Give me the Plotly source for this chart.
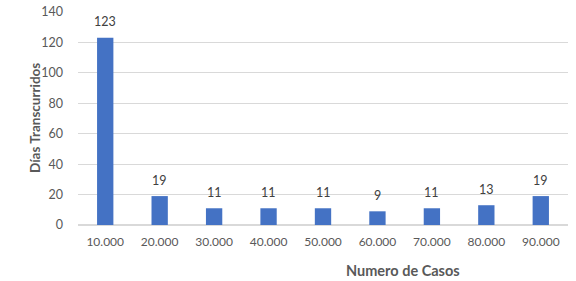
import plotly.graph_objects as go

categories = ["10.000", "20.000", "30.000", "40.000", "50.000", "60.000", "70.000", "80.000", "90.000"]
values = [123, 19, 11, 11, 11, 9, 11, 13, 19]
y_ticks = [0, 20, 40, 60, 80, 100, 120, 140]

font_family = "Lato, 'Open Sans', sans-serif"

L, R, T, B = 78, 8, 12, 56
W, H = 576, 281
pw = W - L - R
ph = H - T - B

fig = go.Figure(go.Bar(
    x=categories, y=values,
    marker=dict(color="#4472C4", line=dict(width=0)),
    cliponaxis=False,
    hoverinfo="skip",
))

value_labels = [
    dict(x=i, y=v, text=str(v), xref="x", yref="y", showarrow=False,
         yanchor="middle", yshift=16,
         font=dict(size=12.5, color="#404040", family=font_family))
    for i, v in enumerate(values)
]

fig.update_layout(
    width=W, height=H,
    margin=dict(l=L, r=R, t=T, b=B, autoexpand=False),
    paper_bgcolor="white", plot_bgcolor="white",
    bargap=0.7,
    showlegend=False,
    font=dict(family=font_family, size=12, color="#595959"),
    xaxis=dict(type="category", categoryorder="array", categoryarray=categories,
               range=[-0.5, len(categories) - 0.5],
               showgrid=False, showline=True, linecolor="#d9d9d9",
               ticks="", automargin=False, ticklabelstandoff=6,
               tickfont=dict(size=12, color="#595959")),
    yaxis=dict(range=[0, 140], tickvals=y_ticks, showgrid=True, gridcolor="#d9d9d9",
               zeroline=True, zerolinecolor="#d9d9d9", showline=False, ticks="",
               automargin=False, ticklabelstandoff=14,
               tickfont=dict(size=12.5, color="#595959")),
    annotations=value_labels + [
        dict(text="<b>Numero de Casos</b>", x=(403 - L) / pw, y=-(270 - (H - B)) / ph,
             xref="paper", yref="paper", showarrow=False, xanchor="center", yanchor="middle",
             font=dict(size=14.5, color="#595959")),
        dict(text="<b>Días Transcurridos</b>", textangle=-90, x=(35 - L) / pw,
             y=((H - B) - 118) / ph, xref="paper", yref="paper", showarrow=False,
             xanchor="center", yanchor="middle", font=dict(size=13.5, color="#595959")),
    ],
)

fig.write_html("out.html", config={"displayModeBar": False, "staticPlot": True},
               post_script="document.body.style.margin='0';document.body.style.overflow='hidden';")
